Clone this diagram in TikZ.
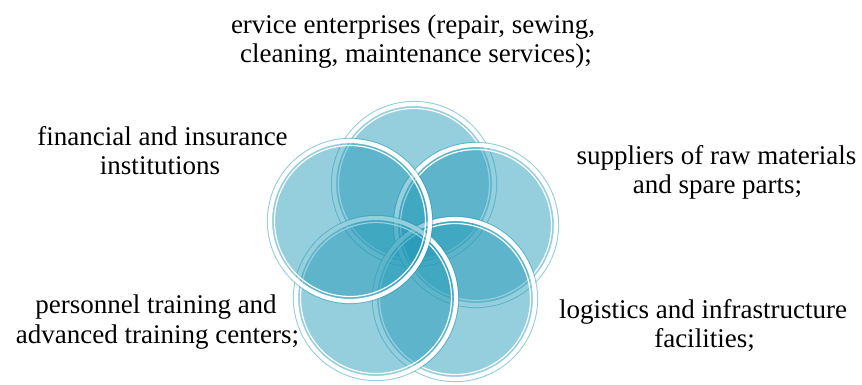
\documentclass[tikz,border=0pt]{standalone}
\usepackage{fontspec}
\setmainfont{Liberation Serif}
\definecolor{petal}{RGB}{35,154,184}
\newcommand\drawpetal[3]{%
  \coordinate (#1) at (#2,#3);
  \fill[petalfill] (#1) circle[radius=82pt];
  \draw[ringedge] (#1) circle[radius=82.6pt];
  \draw[ringthick] (#1) circle[radius=80pt];
  \draw[ringthin] (#1) circle[radius=75.5pt];
}
\begin{document}
\begin{tikzpicture}[x=1pt,y=-1pt,
  petalfill/.style={fill=petal,fill opacity=0.48},
  ringthick/.style={draw=white,line width=4.2pt},
  ringthin/.style={draw=white,line width=1.2pt},
  ringedge/.style={draw=petal,line width=1pt,draw opacity=0.5},
  lbl/.style={font=\fontsize{27}{29}\selectfont,anchor=base,inner sep=0pt}]
\useasboundingbox (0,0) rectangle (862,384);
\fill[white] (0,0) rectangle (862,384);
% circles, back to front
\drawpetal{ctop}{414}{184}
\drawpetal{cright}{476}{225}
\drawpetal{cbr}{455}{299}
\drawpetal{cbl}{376}{298}
\drawpetal{cleft}{350}{221}
% labels
\node[lbl] (t1) at (413,33) {ervice enterprises (repair, sewing,};
\node[lbl] (t2) at (416,62) {cleaning, maintenance services);};
\node[lbl] (l1) at (162.5,145) {financial and insurance};
\node[lbl] (l2) at (160,174) {institutions};
\node[lbl] (r1) at (716.5,164) {suppliers of raw materials};
\node[lbl] (r2) at (717.5,193) {and spare parts;};
\node[lbl] (bl1) at (156,313) {personnel training and};
\node[lbl] (bl2) at (157.5,343) {advanced training centers;};
\node[lbl] (br1) at (703,318) {logistics and infrastructure};
\node[lbl] (br2) at (704.5,347) {facilities;};
\end{tikzpicture}
\end{document}
